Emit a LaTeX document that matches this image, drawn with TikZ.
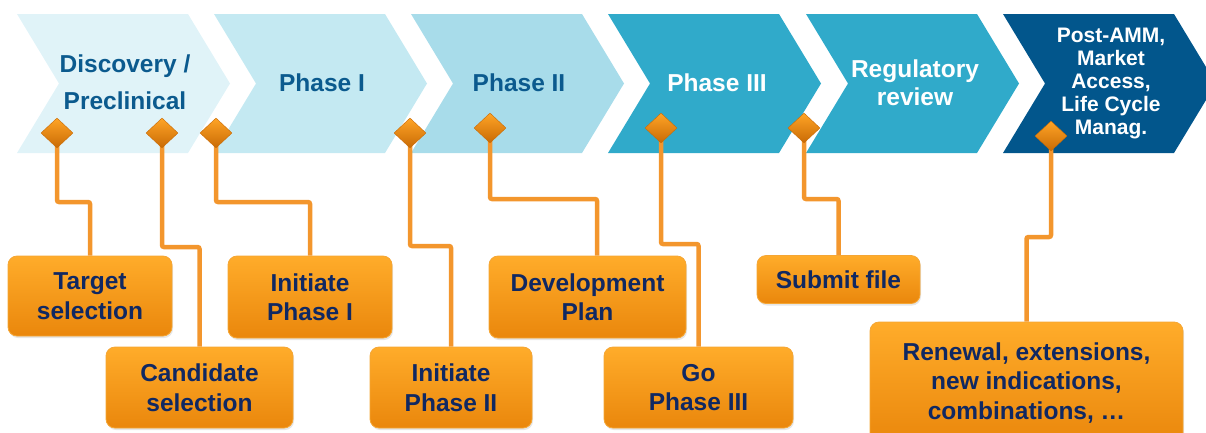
\documentclass[tikz,border=0pt]{standalone}
\usepackage{fontspec}
\setmainfont{Liberation Sans}
\usetikzlibrary{shapes.geometric,shadows}

\definecolor{chA}{HTML}{E0F3F8}
\definecolor{chB}{HTML}{C4E9F2}
\definecolor{chC}{HTML}{A8DCEA}
\definecolor{chD}{HTML}{30AACA}
\definecolor{chE}{HTML}{02568C}
\definecolor{stageblue}{HTML}{0B5A8E}
\definecolor{navy}{HTML}{102862}
\definecolor{linkorange}{HTML}{F3962D}
\definecolor{boxtop}{HTML}{FFAC2A}
\definecolor{boxbot}{HTML}{EA870C}
\definecolor{boxedge}{HTML}{F5A634}
\definecolor{mstop}{HTML}{FFA526}
\definecolor{msbot}{HTML}{C96A05}

\pgfdeclarelayer{chevrons}
\pgfdeclarelayer{links}
\pgfsetlayers{chevrons,links,main}

\begin{document}
\begin{tikzpicture}[x=1pt, y=-1pt,
    stage/.style={font=\bfseries\fontsize{24.5}{28}\selectfont, align=center},
    milestone/.style={diamond, inner sep=0pt, minimum width=32pt,
      minimum height=30pt, top color=mstop, bottom color=msbot,
      draw=msbot, line width=0.4pt},
    task/.style={rounded corners=9pt, top color=boxtop, bottom color=boxbot,
      draw=boxedge, line width=0.8pt, text=navy, inner sep=0pt, align=center,
      font=\bfseries\fontsize{24.5}{29.5}\selectfont,
      drop shadow={opacity=0.2, shadow xshift=1pt, shadow yshift=-2pt}},
    link/.style={draw=linkorange, line width=4.5pt, rounded corners=2pt}]
  \useasboundingbox (0,0) rectangle (1206,432);
  \clip (0,0) rectangle (1206,432);

  % phases
  \begin{pgfonlayer}{chevrons}
    \fill[chA] (17,14) -- ++(171,0) -- ++(42,69.5) -- ++(-42,69.5) -- ++(-171,0) -- ++(42,-69.5) -- cycle;
    \fill[chB] (214,14) -- ++(171,0) -- ++(42,69.5) -- ++(-42,69.5) -- ++(-171,0) -- ++(42,-69.5) -- cycle;
    \fill[chC] (411,14) -- ++(171,0) -- ++(42,69.5) -- ++(-42,69.5) -- ++(-171,0) -- ++(42,-69.5) -- cycle;
    \fill[chD] (608,14) -- ++(171,0) -- ++(42,69.5) -- ++(-42,69.5) -- ++(-171,0) -- ++(42,-69.5) -- cycle;
    \fill[chD] (806,14) -- ++(171,0) -- ++(42,69.5) -- ++(-42,69.5) -- ++(-171,0) -- ++(42,-69.5) -- cycle;
    \fill[chE] (1003,14) -- ++(171,0) -- ++(42,69.5) -- ++(-42,69.5) -- ++(-171,0) -- ++(42,-69.5) -- cycle;
  \end{pgfonlayer}

  \begin{scope}[every node/.style={stage}]
    \node[text=stageblue, font=\bfseries\fontsize{24.5}{37}\selectfont] (disc) at (125,82) {Discovery /\\Preclinical};
    \node[text=stageblue] (ph1) at (322,83) {Phase I};
    \node[text=stageblue] (ph2) at (519,83) {Phase II};
    \node[text=white] (ph3) at (717,83) {Phase III};
    \node[text=white] (reg) at (915,83) {Regulatory\\review};
    \node[text=white, font=\bfseries\fontsize{21}{23}\selectfont] (post) at (1111,83)
      {Post-AMM,\\Market\\Access,\\Life Cycle\\Manag.};
  \end{scope}

  % milestones
  \begin{scope}[every node/.style={milestone}]
    \node (m1) at (57,133) {};
    \node (m2) at (162,133) {};
    \node (m3) at (216,133) {};
    \node (m4) at (410,133) {};
    \node (m5) at (490,128) {};
    \node (m6) at (661,128) {};
    \node (m7) at (804,128) {};
    \node (m8) at (1051,136) {};
  \end{scope}

  \begin{scope}[every node/.style={task}]
    \node[minimum width=164pt, minimum height=80pt] (b1) at (90,296) {Target\\selection};
    \node[minimum width=187pt, minimum height=81pt] (b2) at (199.5,387.5) {Candidate\\selection};
    \node[minimum width=164pt, minimum height=82pt] (b3) at (310,297) {Initiate\\Phase I};
    \node[minimum width=162pt, minimum height=81pt] (b4) at (451,387.5) {Initiate\\Phase II};
    \node[minimum width=197pt, minimum height=82pt] (b5) at (587.5,297) {Development\\Plan};
    \node[minimum width=189pt, minimum height=81pt] (b6) at (698.5,387.5) {Go\\Phase III};
    \node[minimum width=163pt, minimum height=48pt] (b7) at (838.5,279.5) {Submit file};
    \node[minimum width=313pt, minimum height=122pt] (b8) at (1026.5,383)
      {Renewal, extensions,\\new indications,\\combinations, …};
  \end{scope}

  \begin{pgfonlayer}{links}
    \draw[link] (m1.center) -- (m1 |- 0,202) -| (b1.north);
    \draw[link] (m2.center) -- (m2 |- 0,247) -| (b2.north);
    \draw[link] (m3.center) -- (m3 |- 0,202) -| (b3.north);
    \draw[link] (m4.center) -- (m4 |- 0,246) -| (b4.north);
    \draw[link] (m5.center) -- (m5 |- 0,199) -| ([xshift=9.5pt]b5.north);
    \draw[link] (m6.center) -- (m6 |- 0,244) -| (b6.north);
    \draw[link] (m7.center) -- (m7 |- 0,199) -| (b7.north);
    \draw[link] (m8.center) -- (m8 |- 0,237) -| (b8.north);
  \end{pgfonlayer}
\end{tikzpicture}
\end{document}
